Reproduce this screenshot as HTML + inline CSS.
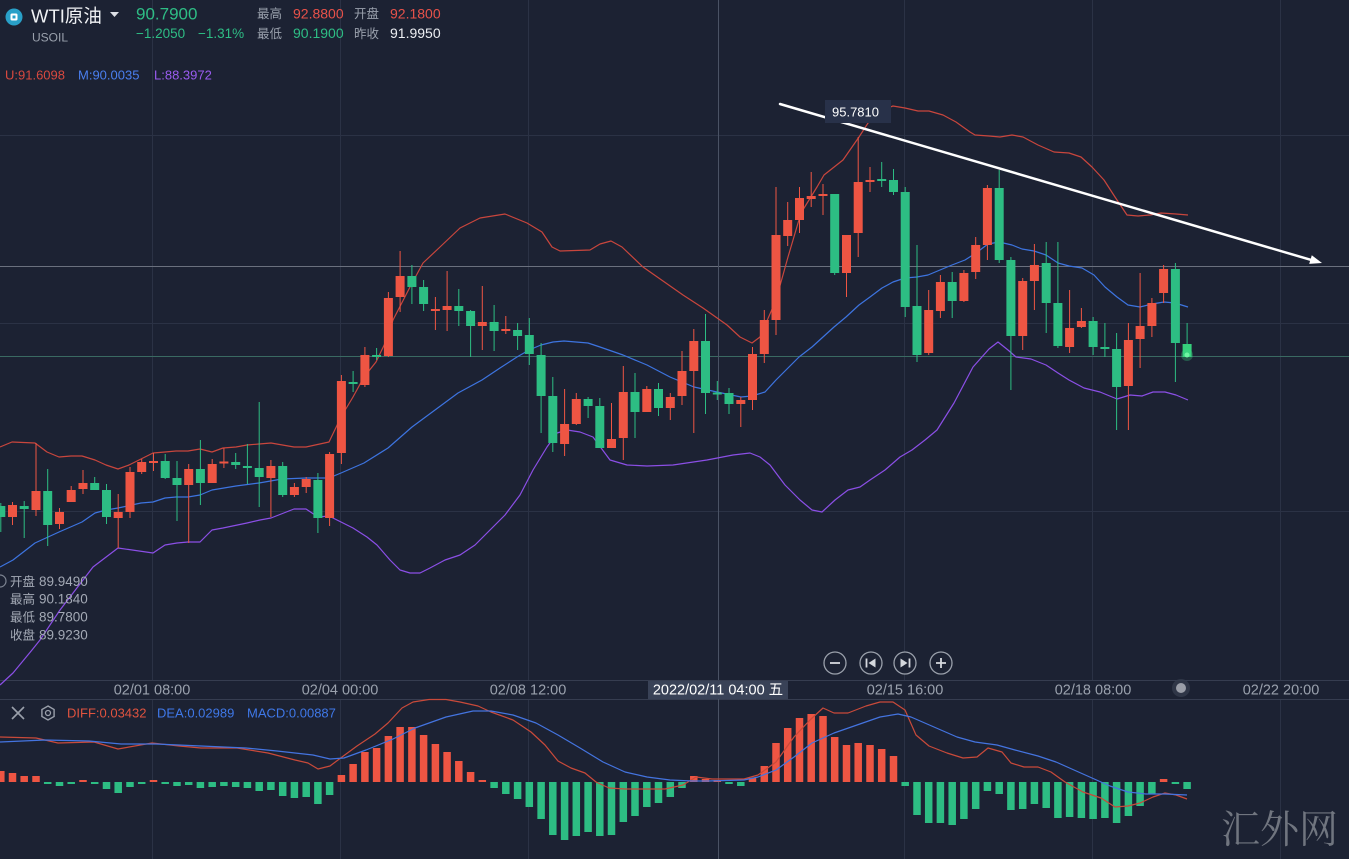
<!DOCTYPE html>
<html><head><meta charset="utf-8"><style>
html,body{margin:0;padding:0;background:#1c2233;width:1349px;height:859px;overflow:hidden}
svg{position:absolute;left:0;top:0;font-family:"Liberation Sans","Noto Sans CJK SC",sans-serif}
</style></head><body>
<svg width="1349" height="859" viewBox="0 0 1349 859" xmlns="http://www.w3.org/2000/svg">
<rect width="1349" height="859" fill="#1c2233"/>
<!-- grid -->
<g stroke="#2b3245" stroke-width="1" fill="none">
<path d="M152.5 0V680M340.5 0V680M528.5 0V680M904.5 0V680M1092.5 0V680M1280.5 0V680"/>
<path d="M152.5 699V859M340.5 699V859M528.5 699V859M904.5 699V859M1092.5 699V859M1280.5 699V859"/>
<path d="M0 135.5H1349M0 323.5H1349M0 511.5H1349"/>
</g>
<path d="M0 680.5H1349M0 699.5H1349" stroke="#363d50" stroke-width="1"/>
<path d="M0 266.5H1349" stroke="#6a707e" stroke-width="1"/>
<path d="M0 356.5H1349" stroke="#3a6a62" stroke-width="1"/>
<path d="M718.5 0V680M718.5 699V859" stroke="#4a5264" stroke-width="1"/>

<!-- header -->
<circle cx="14" cy="17" r="8.5" fill="#29a0c8"/>
<rect x="10.5" y="13.5" width="7" height="7" rx="1.5" fill="#fff"/>
<rect x="12.5" y="15.5" width="3" height="3" fill="#29a0c8"/>
<text x="31" y="22.5" font-size="18.5" fill="#f0f2f5">WTI原油</text>
<polygon points="110,12 119,12 114.5,17" fill="#dde0e6"/>
<text x="32" y="41.5" font-size="12" fill="#9aa1ad">USOIL</text>
<text x="136" y="19.5" font-size="17" fill="#2ebd85">90.7900</text>
<text x="136" y="38" font-size="13.5" fill="#2ebd85">−1.2050</text>
<text x="198" y="38" font-size="13.5" fill="#2ebd85">−1.31%</text>
<g font-size="12.5" fill="#9aa1ad">
<text x="257" y="18">最高</text><text x="354" y="18">开盘</text>
<text x="257" y="38">最低</text><text x="354" y="38">昨收</text>
</g>
<g font-size="14">
<text x="293" y="18.5" fill="#e8524a">92.8800</text>
<text x="390" y="18.5" fill="#e8524a">92.1800</text>
<text x="293" y="38" fill="#2ebd85">90.1900</text>
<text x="390" y="38" fill="#eceef2">91.9950</text>
</g>
<g font-size="13">
<text x="5" y="79.5" fill="#d9493f">U:91.6098</text>
<text x="78" y="79.5" fill="#4a7ff0">M:90.0035</text>
<text x="154" y="79.5" fill="#9a5cf0">L:88.3972</text>
</g>

<!-- bollinger -->
<g fill="none" stroke-width="1.2" stroke-linejoin="round">
<polyline stroke="#c9463d" points="0,447 12,442 35,443 47,452 59,457 71,456 82,456 95,460 106,465 118,469 129,465 141,459 153,453 165,452 176,451 188,451 200,449 212,452 223,448 236,447 247,445 259,444 271,443 294,447 306,447 329,442 341,417 353,397 364,377 376,362 388,337 393,320 410,287 423,263 440,247 460,228 480,218 505,214 527,223 542,232 552,247 560,251 590,250 600,244 611,241 622,247 643,267 683,295 703,308 727,325 740,337 752,343 760,337 776,300 788,257 801,213 817,187 824,175 843,160 859,137 870,120 882,110 893,106 905,108 918,111 929,111 943,115 956,122 970,132 975,135 989,136 1000,137 1012,135 1023,137 1038,145 1054,152 1069,153 1081,157 1092,167 1104,180 1115,197 1127,215 1138,216 1150,215 1161,213 1176,214 1188,215"/>
<polyline stroke="#3d74e0" points="0,567 13,560 35,543 59,532 82,522 95,513 106,510 118,508 141,503 153,502 165,498 176,497 188,497 200,495 212,490 236,486 259,483 282,479 306,478 329,478 341,473 364,463 388,448 412,427 435,410 458,393 482,380 500,368 517,357 529,350 541,345 553,342 564,341 588,343 600,347 623,355 647,365 670,377 694,387 717,392 741,397 752,396 765,392 776,380 788,368 799,357 812,347 823,337 834,327 846,317 859,305 870,297 882,288 893,282 905,278 917,277 928,275 940,270 952,265 965,260 976,253 988,244 999,242 1012,245 1022,249 1034,251 1046,255 1058,263 1069,266 1082,268 1094,275 1105,287 1117,297 1128,305 1140,307 1152,304 1164,302 1175,303 1188,307"/>
<polyline stroke="#8b4fe6" points="0,685 13,673 32,650 40,640 60,610 93,567 118,548 153,553 165,545 177,543 188,542 200,542 212,530 223,528 247,523 260,520 271,518 294,509 306,509 318,517 329,516 341,522 353,528 367,537 377,545 390,560 400,570 410,573 420,573 430,568 445,560 460,555 475,545 490,530 505,515 520,495 533,470 547,447 557,433 567,430 580,432 593,437 610,460 627,465 647,466 673,465 707,460 733,455 750,453 760,457 770,465 785,485 800,500 812,510 822,512 835,500 848,490 860,487 870,480 885,470 900,457 912,450 925,440 937,430 954,403 973,367 989,349 998,342 1008,350 1016,357 1031,359 1046,365 1058,373 1069,380 1084,388 1100,392 1117,399 1130,395 1142,396 1153,392 1165,392 1176,395 1188,400"/>
</g>

<!-- candles red -->
<path fill="none" stroke="#ee5543" stroke-width="1" d="M12.5 502V525M36 443V516M59.5 508V529M71.2 486V502M83 470V494M118.2 494V548M130 467V518M141.7 459V474M153.5 453V471M188.7 464V543M212.2 459V483M223.9 448V468M270.9 460V517M294.4 483V497M306.2 477V493M329.6 452V526M341.4 375V464M364.9 347V387M388.4 292V357M400.1 251V312M435.4 297V330M447.1 271V331M482.3 286V350M505.8 316V334M564.6 389V456M576.3 393V425M611.5 403V448M623.3 366V460M646.8 386V412M670.3 393V420M682 351V405M693.8 329V433M740.8 397V427M752.5 347V410M764.3 310V363M776 187V335M787.7 202V246M799.5 187V233M811.2 172V207M823 184V215M846.5 235V297M858.2 137V257M870 167V192M928.7 290V355M940.4 275V318M963.9 270V302M975.7 237V279M987.4 185V260M1022.7 278V350M1034.4 244V310M1069.6 290V353M1081.4 308V328M1128.4 323V430M1140.1 273V368M1151.9 298V337M1163.6 265V303"/>
<path fill="none" stroke="#ee5543" stroke-width="9" d="M12.5 505V517M36 491V510M59.5 512V524M71.2 490V502M83 483V489M118.2 512V518M130 472V512M141.7 462V472M153.5 461V463M188.7 469V485M212.2 464V483M223.9 461.5V463.5M270.9 466V478M294.4 487V495M306.2 479V487M329.6 454V518M341.4 381V453M364.9 355V385M388.4 298V356M400.1 276V297M435.4 309V311M447.1 306V310M482.3 322V326M505.8 329V331M564.6 424V444M576.3 399V424M611.5 439V448M623.3 392V438M646.8 389V412M670.3 397V408M682 371V396M693.8 341V371M740.8 400V404M752.5 354V400M764.3 320V354M776 235V320M787.7 220V236M799.5 198V220M811.2 196V199M823 194V196M846.5 235V273M858.2 182V233M870 180V182M928.7 310V353M940.4 282V311M963.9 273V301M975.7 245V272M987.4 188V245M1022.7 281V336M1034.4 265V281M1069.6 328V347M1081.4 321V327M1128.4 340V386M1140.1 326V339M1151.9 303V326M1163.6 269V293"/>
<!-- candles green -->
<path fill="none" stroke="#2dbd83" stroke-width="1" d="M0.8 503V532M24.2 501V538M47.7 469V546M94.7 477V490M106.5 484V524M165.2 454V479M177 461V521M200.4 440V505M235.7 453V469M247.4 444V484M259.2 402V507M282.7 462V497M317.9 473V533M353.1 371V392M376.6 348V360M411.9 265V304M423.6 280V311M458.8 289V326M470.6 310V357M494.1 305V351M517.6 323V350M529.3 318V365M541.1 343V433M552.8 377V452M588.1 397V418M599.8 398V448M635 373V438M658.5 383V416M705.5 314V414M717.3 381V400M729 388V414M834.7 194V275M881.7 162V187M893.5 169V195M905.2 187V317M917 245V362M952.2 272V318M999.2 170V263M1010.9 257V390M1046.2 242V333M1057.9 242V348M1093.1 317V355M1104.9 323V357M1116.6 333V430M1175.4 263V382M1187.1 323V357"/>
<path fill="none" stroke="#2dbd83" stroke-width="9" d="M0.8 506V517M24.2 506V509M47.7 491V525M94.7 483V490M106.5 490V517M165.2 461V478M177 478V485M200.4 469V483M235.7 462V465M247.4 466V468M259.2 468V477M282.7 466V495M317.9 480V518M353.1 382V384M376.6 355V357M411.9 276V287M423.6 287V304M458.8 306V311M470.6 311V326M494.1 322V331M517.6 330V336M529.3 335V354M541.1 355V396M552.8 396V443M588.1 399V406M599.8 406V448M635 392V412M658.5 389V408M705.5 341V393M717.3 392.5V394.5M729 393V404M834.7 194V273M881.7 179V181M893.5 180V192M905.2 192V307M917 306V355M952.2 282V301M999.2 188V260M1010.9 260V336M1046.2 263V303M1057.9 303V346M1093.1 321V347M1104.9 347V349M1116.6 349V387M1175.4 269V343"/>
<path fill="none" stroke="#36d07c" stroke-width="9" d="M1187.1 344V357"/>
<circle cx="1187" cy="355" r="6" fill="#3ddc84" opacity="0.3"/>
<circle cx="1187" cy="355" r="2.5" fill="#6ef5a2"/>

<!-- trend arrow -->
<line x1="780" y1="104" x2="1312" y2="260.2" stroke="#ffffff" stroke-width="2.5" stroke-linecap="round"/>
<polygon points="1322,263 1309.2,263.9 1311.8,255.3" fill="#ffffff"/>
<rect x="825" y="100" width="66" height="23" fill="#283149"/>
<text x="832" y="116.5" font-size="13" fill="#ffffff">95.7810</text>

<!-- info box -->
<g fill="#a3a9b5">
<text x="10" y="586" font-size="12.5">开盘</text><text x="39" y="586" font-size="13.5">89.9490</text>
<text x="10" y="603.5" font-size="12.5">最高</text><text x="39" y="603.5" font-size="13.5">90.1840</text>
<text x="10" y="621.5" font-size="12.5">最低</text><text x="39" y="621.5" font-size="13.5">89.7800</text>
<text x="10" y="639.5" font-size="12.5">收盘</text><text x="39" y="639.5" font-size="13.5">89.9230</text>
</g>
<path d="M0 575 A6 6 0 0 1 0 587" fill="none" stroke="#7d8492" stroke-width="1.2"/>

<!-- nav buttons -->
<g fill="#1c2233" stroke="#9aa0ab" stroke-width="1.3">
<circle cx="835" cy="663" r="11"/><circle cx="871" cy="663" r="11"/><circle cx="905" cy="663" r="11"/><circle cx="941" cy="663" r="11"/>
</g>
<g stroke="#d5d8de" stroke-width="1.8" fill="none">
<path d="M830 663H840"/><path d="M936 663H946M941 658V668"/>
<path d="M866.5 658.5V667.5"/><path d="M909.5 658.5V667.5"/>
</g>
<polygon points="875.5,658.5 875.5,667.5 868.5,663" fill="#d5d8de"/>
<polygon points="900.5,658.5 900.5,667.5 907.5,663" fill="#d5d8de"/>

<!-- x axis -->
<g font-size="14.5" fill="#9aa1ad" text-anchor="middle">
<text x="152" y="694.5">02/01 08:00</text>
<text x="340" y="694.5">02/04 00:00</text>
<text x="528" y="694.5">02/08 12:00</text>
<text x="905" y="694.5">02/15 16:00</text>
<text x="1093" y="694.5">02/18 08:00</text>
<text x="1281" y="694.5">02/22 20:00</text>
</g>
<rect x="648" y="681" width="140" height="18" fill="#394257"/>
<text x="718" y="694.5" font-size="14.5" fill="#ffffff" text-anchor="middle">2022/02/11 04:00 五</text>
<circle cx="1181" cy="688" r="9" fill="#353c4c" opacity="0.8"/>
<circle cx="1181" cy="688" r="5" fill="#9a9ea8"/>

<!-- MACD header -->
<path d="M12 707L24 719M24 707L12 719" stroke="#9aa0ab" stroke-width="1.6"/>
<polygon points="48,706 54.1,709.5 54.1,716.5 48,720 41.9,716.5 41.9,709.5" fill="none" stroke="#9aa0ab" stroke-width="1.4"/>
<circle cx="48" cy="713" r="2.5" fill="none" stroke="#9aa0ab" stroke-width="1.3"/>
<g font-size="13">
<text x="67" y="717.5" fill="#e0533f">DIFF:0.03432</text>
<text x="157" y="717.5" fill="#3f78e8">DEA:0.02989</text>
<text x="247" y="717.5" fill="#3f78e8">MACD:0.00887</text>
</g>

<!-- MACD bars -->
<path fill="none" stroke="#ee5543" stroke-width="7.5" d="M0.8 782V771M12.5 782V773M24.2 782V776M36 782V776M83 782V780M153.5 782V780M341.4 782V775M353.1 782V764M364.9 782V752M376.6 782V748M388.4 782V736M400.1 782V727M411.9 782V727M423.6 782V735M435.4 782V744M447.1 782V752M458.8 782V761M470.6 782V772M482.3 782V780M693.8 782V776M705.5 782V779M717.3 782V780M752.5 782V778M764.3 782V766M776 782V743M787.7 782V728M799.5 782V718M811.2 782V714M823 782V716M834.7 782V737M846.5 782V745M858.2 782V743M870 782V745M881.7 782V749M893.5 782V756M1163.6 782V779"/>
<path fill="none" stroke="#2dbd83" stroke-width="7.5" d="M47.7 782V784M59.5 782V786M71.2 782V784M94.7 782V784M106.5 782V789M118.2 782V793M130 782V787M141.7 782V784M165.2 782V784M177 782V786M188.7 782V785M200.4 782V788M212.2 782V787M223.9 782V786M235.7 782V787M247.4 782V788M259.2 782V791M270.9 782V790M282.7 782V796M294.4 782V798M306.2 782V797M317.9 782V804M329.6 782V795M494.1 782V788M505.8 782V794M517.6 782V799M529.3 782V807M541.1 782V819M552.8 782V835M564.6 782V840M576.3 782V836M588.1 782V832M599.8 782V836M611.5 782V835M623.3 782V822M635 782V816M646.8 782V807M658.5 782V803M670.3 782V797M682 782V788M729 782V784M740.8 782V786M905.2 782V786M917 782V815M928.7 782V823M940.4 782V823M952.2 782V825M963.9 782V819M975.7 782V809M987.4 782V791M999.2 782V794M1010.9 782V810M1022.7 782V809M1034.4 782V804M1046.2 782V808M1057.9 782V818M1069.6 782V817M1081.4 782V818M1093.1 782V819M1104.9 782V818M1116.6 782V823M1128.4 782V816M1140.1 782V806M1151.9 782V794M1175.4 782V784M1187.1 782V789"/>

<!-- MACD lines -->
<g fill="none" stroke-width="1.2" stroke-linejoin="round">
<polyline stroke="#c94a3a" points="0,737 36,738 58,743 94,742 118,749 152,743 179,746 201,748 237,748 268,753 295,760 308,763 318,769 330,766 342,757 357,746 375,734 388,723 402,708 413,702 429,699.5 446,699.5 460,702 478,706 491,712 513,720 531,732 545,745 558,761 571,768 585,773 596,782 609,788 625,789 647,789 665,789 683,785 696,777 712,779 744,779 758,775 776,762 794,737 810,720 823,708 834,713 848,713 866,706 880,702 893,702 905,710 916,735 929,746 947,753 963,758 977,757 988,748 1002,752 1011,763 1024,767 1038,767 1051,772 1065,782 1083,792 1101,798 1115,807 1128,806 1140,803 1153,797 1165,793 1176,795 1187,799"/>
<polyline stroke="#4474e0" points="0,742 45,740 89,741 121,744 156,744 201,746 246,748 277,751 313,755 330,759 344,758 366,750 393,739 415,728 446,717 473,711 491,711 513,715 536,723 558,735 580,748 603,762 625,772 647,777 670,780 692,781 708,781 744,780 758,777 776,770 794,757 812,743 834,733 857,725 880,717 898,714 911,717 934,727 957,737 975,742 997,745 1015,750 1038,756 1056,762 1074,770 1092,778 1110,786 1128,792 1146,794 1165,794 1187,795"/>
</g>

<!-- watermark -->
<text x="1221" y="843" font-size="39" fill="#70757f" font-family="'Noto Serif CJK SC','Liberation Serif',serif">汇外网</text>
</svg>
</body></html>
